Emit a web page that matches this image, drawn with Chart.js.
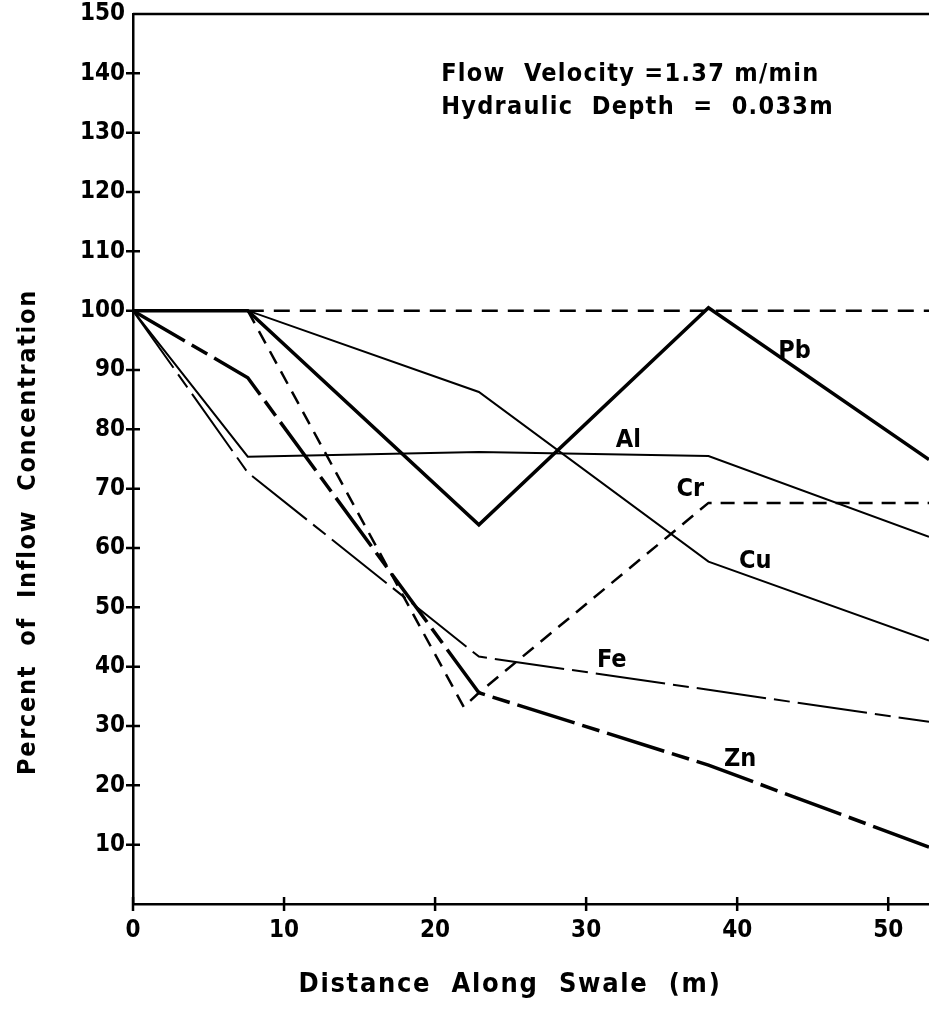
<!DOCTYPE html>
<html>
<head>
<meta charset="utf-8">
<script src="https://cdn.jsdelivr.net/npm/chart.js@4.4.0/dist/chart.umd.min.js"></script>
<style>
  html, body { margin: 0; padding: 0; background: #fff; }
  #wrap { width: 929px; height: 1010px; }
</style>
</head>
<body>
<div id="wrap"><canvas id="swale" width="929" height="1010"></canvas></div>
<script>
// sampling stations along the swale (m), last one is the right edge of the plot
var stations = [0, 7.6, 22.9, 38.1, 52.7];

// percent of inflow concentration at each station
var pb = [100, 100, 63.9, 100.5, 74.9];
var cu = [100, 100, 86.3, 57.7, 44.4];
var al = [100, 75.4, 76.2, 75.5, 61.9];
var fe = [100, 72.7, 41.7, 36.1, 30.7];
var zn = [100, 88.7, 35.6, 23.4, 9.6];

// chromium has an extra dip just before the 23 m station
var crX = [0, 7.6, 21.9, 22.9, 38.1, 52.7];
var cr = [100, 100, 33.2, 35.6, 67.6, 67.6];

// 100 % reference line
var refX = [7.6, 52.7];
var ref = [100, 100];

var xTicks = [0, 10, 20, 30, 40, 50];
var yTicks = [10, 20, 30, 40, 50, 60, 70, 80, 90, 100, 110, 120, 130, 140, 150];

// curve labels, placed in data units
var curveNames = ['Pb', 'Al', 'Cr', 'Cu', 'Fe', 'Zn'];
var curveLabelX = [43.8, 32.8, 36.9, 41.2, 31.7, 40.2];
var curveLabelY = [93.1, 78.2, 69.8, 57.7, 41.1, 24.3];

var notes = ['Flow  Velocity =1.37 m/min', 'Hydraulic  Depth  =  0.033m'];
var noteX = 20.4;
var noteY = [139.8, 134.3];

var xTitle = 'Distance  Along  Swale  (m)';
var yTitle = 'Percent  of  Inflow  Concentration';

var FONT = '"DejaVu Sans Condensed", "DejaVu Sans", sans-serif';

function pts(xs, ys) {
    var out = [];
    for (var i = 0; i < xs.length; i++) {
        out.push({ x: xs[i], y: ys[i] });
    }
    return out;
}

function series(label, xs, ys, width, dash) {
    return {
        label: label,
        data: pts(xs, ys),
        borderColor: '#000',
        borderWidth: width,
        borderDash: dash,
        borderCapStyle: 'butt',
        borderJoinStyle: 'miter',
        pointRadius: 0,
        tension: 0,
        fill: false
    };
}

// frame extras: top line at 150, ticks crossing both axes, all free text
var decorations = {
    id: 'decorations',
    afterDraw: function (chart) {
        var ctx = chart.ctx;
        var xs = chart.scales.x, ys = chart.scales.y;
        var x0 = xs.getPixelForValue(0), y0 = ys.getPixelForValue(0);
        ctx.save();
        ctx.strokeStyle = '#000';
        ctx.lineWidth = 2.5;
        ctx.beginPath();
        var yTop = ys.getPixelForValue(150);
        ctx.moveTo(x0, yTop);
        ctx.lineTo(chart.width, yTop);
        yTicks.forEach(function (v) {
            if (v === 150) return;
            var p = ys.getPixelForValue(v);
            ctx.moveTo(x0 - 7, p);
            ctx.lineTo(x0 + 7, p);
        });
        xTicks.forEach(function (v) {
            var p = xs.getPixelForValue(v);
            ctx.moveTo(p, y0 - 7);
            ctx.lineTo(p, y0 + 7);
        });
        ctx.stroke();

        ctx.fillStyle = '#000';
        ctx.textBaseline = 'middle';

        ctx.font = 'bold 25px ' + FONT;
        ctx.textAlign = 'center';
        curveNames.forEach(function (name, i) {
            ctx.fillText(name, xs.getPixelForValue(curveLabelX[i]), ys.getPixelForValue(curveLabelY[i]));
        });

        ctx.letterSpacing = '1.3px';
        ctx.font = 'bold 25px ' + FONT;
        ctx.textAlign = 'left';
        notes.forEach(function (t, i) {
            ctx.fillText(t, xs.getPixelForValue(noteX), ys.getPixelForValue(noteY[i]));
        });

        // axis titles
        ctx.letterSpacing = '1.7px';
        ctx.textAlign = 'center';
        ctx.font = 'bold 27px ' + FONT;
        ctx.fillText(xTitle, 510, 985);

        ctx.font = 'bold 25px ' + FONT;
        ctx.translate(28, 532);
        ctx.rotate(-Math.PI / 2);
        ctx.fillText(yTitle, 0, 0);
        ctx.letterSpacing = '0px';
        ctx.restore();
    }
};

var ctx1 = document.getElementById('swale');
var swaleChart = new Chart(ctx1, {
    type: 'line',
    data: {
        datasets: [
            series('Ref', refX, ref, 2.5, [16, 10]),
            series('Pb', stations, pb, 3.5, []),
            series('Cu', stations, cu, 2, []),
            series('Al', stations, al, 2, []),
            series('Cr', crX, cr, 2.5, [14, 9]),
            series('Fe', stations, fe, 2, [70, 8, 16, 8]),
            series('Zn', stations, zn, 3.5, [60, 8, 18, 8])
        ]
    },
    options: {
        responsive: false,
        animation: false,
        layout: { padding: { top: 14, right: 0, left: 0, bottom: 0 } },
        plugins: {
            legend: { display: false },
            tooltip: { enabled: false }
        },
        scales: {
            x: {
                type: 'linear',
                min: 0,
                max: 52.7,
                afterFit: function (scale) {
                    scale.height = 106;
                    scale.paddingLeft = 0;
                    scale.paddingRight = 0;
                },
                afterBuildTicks: function (scale) {
                    scale.ticks = xTicks.map(function (v) { return { value: v }; });
                },
                border: { display: true, color: '#000', width: 2.5 },
                grid: { display: false, drawTicks: false },
                ticks: {
                    autoSkip: false,
                    maxRotation: 0,
                    includeBounds: false,
                    padding: 12,
                    color: '#000',
                    font: { family: FONT, size: 24, weight: 'bold' }
                }
            },
            y: {
                type: 'linear',
                min: 0,
                max: 150,
                afterFit: function (scale) {
                    scale.width = 133;
                    scale.paddingTop = 0;
                    scale.paddingBottom = 0;
                },
                afterBuildTicks: function (scale) {
                    scale.ticks = yTicks.map(function (v) { return { value: v }; });
                },
                border: { display: true, color: '#000', width: 2.5 },
                grid: { display: false, drawTicks: false },
                ticks: {
                    autoSkip: false,
                    padding: 8,
                    color: '#000',
                    font: { family: FONT, size: 24, weight: 'bold' }
                }
            }
        }
    },
    plugins: [decorations]
});
</script>
</body>
</html>
